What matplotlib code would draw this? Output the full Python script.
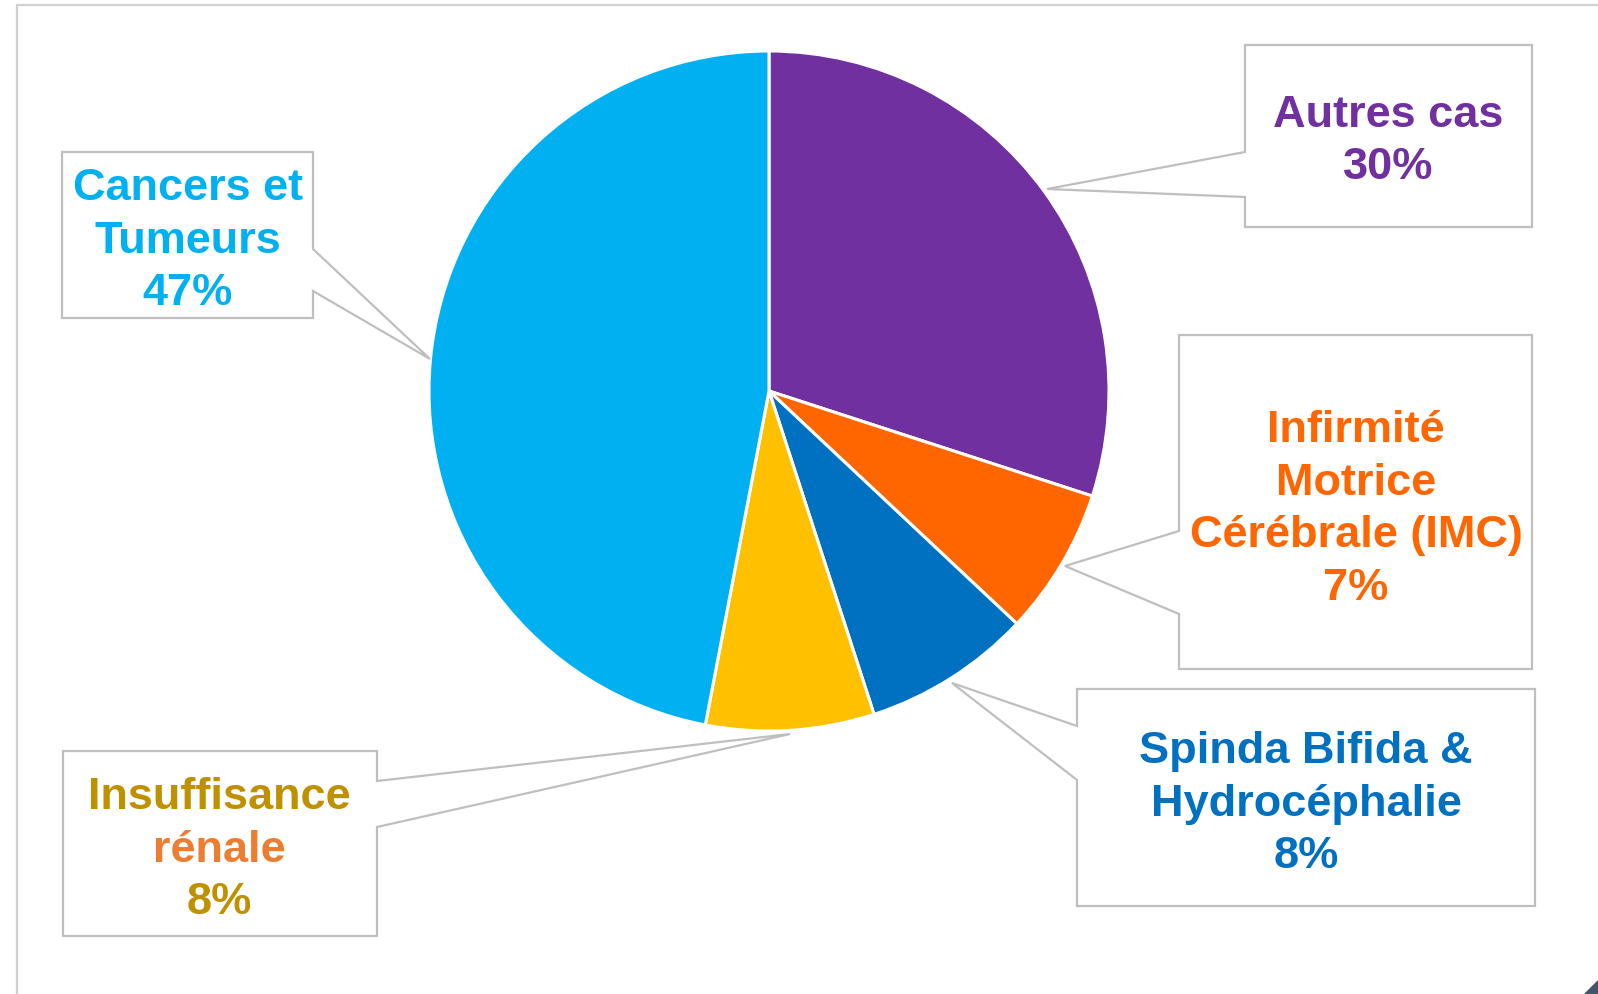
import matplotlib
matplotlib.use("Agg")
import matplotlib.pyplot as plt
from matplotlib.patches import Polygon

W, H = 1598, 995
FONT = "Liberation Sans"
FONT_SIZE = 32.5

# data (clockwise from 12 o'clock)
categories = ["Autres cas", "Infirmité Motrice Cérébrale (IMC)",
              "Spinda Bifida & Hydrocéphalie", "Insuffisance rénale",
              "Cancers et Tumeurs"]
values = [30, 7, 8, 8, 47]
colors = ["#7030A0", "#FF6600", "#0070C0", "#FFC000", "#00B0F0"]

# label lines and their colours
label_lines = [
    [("Autres cas", "#7030A0"), ("30%", "#7030A0")],
    [("Infirmité", "#FF6600"), ("Motrice", "#FF6600"),
     ("Cérébrale (IMC)", "#FF6600"), ("7%", "#FF6600")],
    [("Spinda Bifida &", "#0070C0"), ("Hydrocéphalie", "#0070C0"), ("8%", "#0070C0")],
    [("Insuffisance", "#BF9000"), ("rénale", "#ED7D31"), ("8%", "#BF9000")],
    [("Cancers et", "#00B0F0"), ("Tumeurs", "#00B0F0"), ("47%", "#00B0F0")],
]

# callout boxes in pixel coords: (x0, x1, y0, y1, side, pa, pb, tip, text center)
callouts = [
    (1245, 1532, 46, 228, "left", 153, 198, (1047, 190), (1388, 137)),
    (1179, 1532, 336, 670, "left", 532, 615, (1065, 567), (1356, 505)),
    (1077, 1535, 690, 907, "left", 727, 781, (952, 684), (1306, 800)),
    (63, 377, 752, 937, "right", 782, 828, (790, 735), (219, 846)),
    (62, 313, 153, 319, "right", 250, 292, (430, 360), (188, 237)),
]

CX, CY, R = 769, 392, 340


def fy(y):
    return H - y


fig = plt.figure(figsize=(W / 100, H / 100), dpi=100)
ax = fig.add_axes([0, 0, 1, 1])

ax.pie(values, colors=colors, startangle=90, counterclock=False,
       center=(CX, fy(CY)), radius=R,
       wedgeprops=dict(edgecolor="white", linewidth=2.2))

# slide frame
ax.plot([17, 17, W + 5], [fy(H + 5), fy(6), fy(6)], color="#D0D0D0", lw=1.6,
        solid_joinstyle="miter", zorder=1)
ax.add_patch(Polygon([(W, fy(H)), (W, fy(H - 14)), (W - 14, fy(H))],
                     closed=True, facecolor="#44546A", edgecolor="none"))

spacing = 52.5
cap = 32
for (x0, x1, y0, y1, side, pa, pb, tip, tc), lines in zip(callouts, label_lines):
    if side == "left":
        pts = [(x0, y0), (x1, y0), (x1, y1), (x0, y1), (x0, pb), tip, (x0, pa)]
    else:
        pts = [(x0, y0), (x1, y0), (x1, pa), tip, (x1, pb), (x1, y1), (x0, y1)]
    pts = [(px, fy(py)) for px, py in pts]
    ax.add_patch(Polygon(pts, closed=True, facecolor="white",
                         edgecolor="#BFBFBF", linewidth=1.6, zorder=3))
    n = len(lines)
    for i, (txt, col) in enumerate(lines):
        yc = tc[1] + (i - (n - 1) / 2) * spacing
        ax.text(tc[0], fy(yc + cap / 2), txt, color=col, fontsize=FONT_SIZE,
                fontweight="bold", family=FONT, ha="center", va="baseline",
                zorder=4)

ax.set_xlim(0, W)
ax.set_ylim(0, H)
ax.set_aspect("equal")
ax.axis("off")

fig.savefig("out.png", dpi=100, facecolor="white")
plt.close(fig)
